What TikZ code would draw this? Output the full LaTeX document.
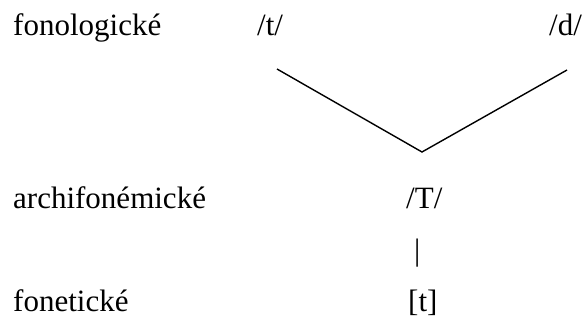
\documentclass[tikz,border=0pt]{standalone}
\usepackage{fontspec}
\setmainfont{Liberation Serif}
\begin{document}
\begin{tikzpicture}[x=1pt,y=-1pt,
  lbl/.style={anchor=base west, inner sep=0pt, font=\fontsize{31}{36}\selectfont},
  conn/.style={line width=1.4pt, line join=miter}]
\useasboundingbox (0,0) rectangle (584,320);
\node[lbl] (fon) at (13,36) {fonologické};
\node[lbl] (t) at (257,36) {/t/};
\node[lbl] (d) at (549,36) {/d/};
\node[lbl] (arch) at (13,209) {archifonémické};
\node[lbl] (T) at (406,209) {/T/};
\node[lbl] (bar) at (414,261) {|};
\node[lbl] (fonet) at (13,312) {fonetické};
\node[lbl] (pt) at (408,312) {[t]};
\coordinate (l1) at (277,69);
\coordinate (v) at (422,152);
\coordinate (r1) at (567,70);
\draw[conn] (l1) -- (v) -- (r1);
\end{tikzpicture}
\end{document}
